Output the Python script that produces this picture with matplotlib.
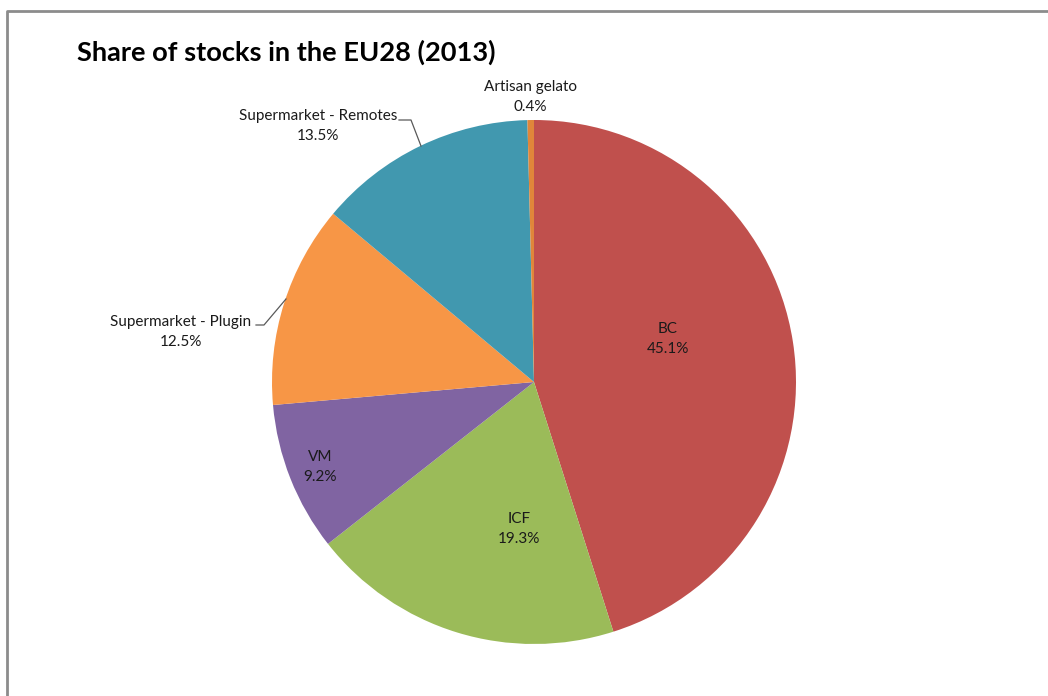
import matplotlib
matplotlib.use("Agg")
import matplotlib.pyplot as plt
import numpy as np

categories = ["BC", "ICF", "VM", "Supermarket - Plugin", "Supermarket - Remotes", "Artisan gelato"]
shares = [45.1, 19.3, 9.2, 12.5, 13.5, 0.4]
colors = ["#C0504D", "#9BBB59", "#8064A2", "#F79646", "#4198AF", "#E0863A"]
title = "Share of stocks in the EU28 (2013)"

W, H = 1048, 696
fig = plt.figure(figsize=(W / 100, H / 100), dpi=100)
fig.patch.set_facecolor("white")

# frame (clipped at right/bottom)
frame_ax = fig.add_axes([0, 0, 1, 1])
frame_ax.set_xlim(0, W)
frame_ax.set_ylim(H, 0)
frame_ax.axis("off")
frame_ax.plot([7, 7, W + 5], [H + 5, 10.5, 10.5], color="#8c8c8c", lw=2, solid_capstyle="butt")

font = "Lato"
frame_ax.text(77, 52, title, fontsize=19.6, fontweight="bold", family=font,
              va="center", ha="left", color="black")

# pie axes: center (534,382), radius 262 px
cx, cy, R = 534, 382, 262
ax = fig.add_axes([(cx - R) / W, (H - cy - R) / H, 2 * R / W, 2 * R / H])
ax.pie(shares, colors=colors, startangle=90, counterclock=False, radius=1.0,
       wedgeprops=dict(linewidth=0))
ax.set_xlim(-1, 1)
ax.set_ylim(-1, 1)
ax.set_aspect("equal")
ax.axis("off")

def px(x, y):
    return ((x - cx) / R, (cy - y) / R)

label_pos = {
    "Artisan gelato": (530, 97),
    "BC": (668, 339),
    "ICF": (519, 529),
    "VM": (320, 467),
    "Supermarket - Plugin": (181, 332),
    "Supermarket - Remotes": (318, 126),
}
for cat, val in zip(categories, shares):
    x, y = px(*label_pos[cat])
    ax.text(x, y, f"{cat}\n{val:.1f}%", ha="center", va="center", fontsize=11,
            family=font, color="#1a1a1a", linespacing=1.6, clip_on=False)

# leader lines
for pts in ([(399, 120), (411, 120), (421, 146)],
            [(256, 325), (264, 325), (286, 299)]):
    xs, ys = zip(*[px(*p) for p in pts])
    ax.plot(xs, ys, color="#595959", lw=0.9, clip_on=False)

fig.savefig("out.png", dpi=100, facecolor="white")
